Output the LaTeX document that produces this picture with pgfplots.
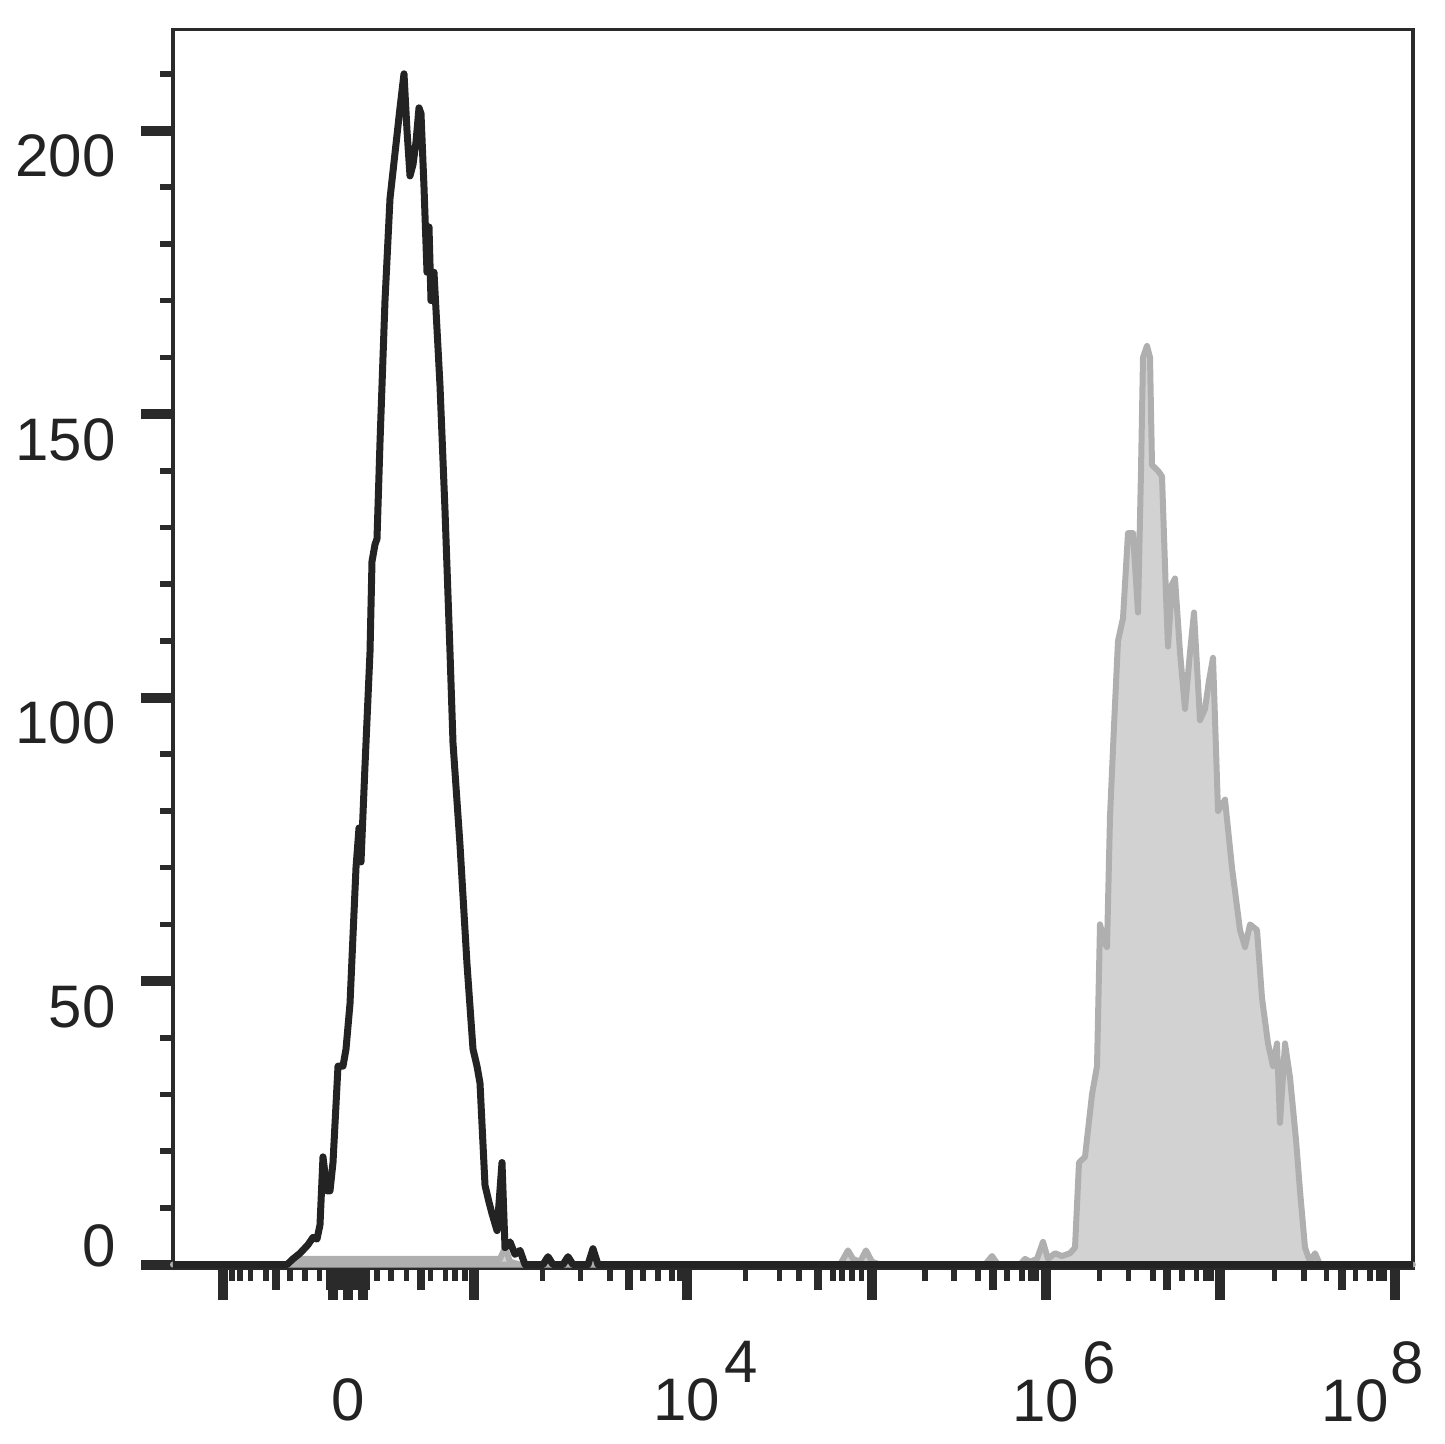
\documentclass[border=0pt]{standalone}
\usepackage{pgfplots}
\pgfplotsset{compat=1.18}
\usepackage{fontspec}
\setmainfont{Liberation Sans}
\definecolor{blk}{RGB}{35,35,35}
\definecolor{frm}{RGB}{42,42,42}
\definecolor{gfill}{RGB}{210,210,210}
\definecolor{gline}{RGB}{175,175,175}
\newcommand{\xl}[1]{10\rlap{\hspace{1pt}\raisebox{9.5pt}{#1}}}
\newcommand{\xlr}[1]{10\rlap{\hspace{0.5pt}\raisebox{9.5pt}{#1}}}
\begin{document}
\begin{tikzpicture}
\useasboundingbox (-43.25pt,-44pt) rectangle (318pt,317pt);
\begin{axis}[
  at={(0pt,0pt)}, anchor=south west,
  scale only axis, width=310pt, height=309.6pt,
  xmin=173, xmax=1413, ymin=-0.6, ymax=217.8,
  clip=false,
  axis line style={frm, line width=0.8pt},
  tick pos=left, tick align=outside,
  major tick length=7.9pt, minor tick length=3.2pt,
  major tick style={frm, line width=2.5pt},
  minor tick style={frm, line width=1.4pt},
  xtick={223,333,348,363,474,687,872,1045.5,1220,1395},
  xticklabels={,,{\vphantom{\xl{4}}0},,,{\xl{4}},,{\xl{6}},,{\hspace*{-20pt}\xlr{8}}},
  minor xtick={232,240,250.5,266,290,305,319.5,377,391,406.5,430.5,445.5,455,465,542.5,580.5,610,643,658,672,680,745.5,779.5,799,833,842,852,861.5,925,954,978,1007,1022,1031,1036,1099.5,1128.5,1153,1182,1196.5,1205.5,1211,1274.5,1304,1326.5,1355.5,1370,1379,1384.5},
  extra x ticks={276,421,629,818,992.5,1167,1341.5,330,334,338,342,346,350,354,358,362,366},
  extra x tick labels={},
  extra x tick style={major tick length=5.5pt, major tick style={frm, line width=2pt}},
  ytick={0,50,100,150,200},
  yticklabels={{\raisebox{11.1pt}{0}},50,100,150,200},
  minor ytick={10,20,30,40,60,70,80,90,110,120,130,140,160,170,180,190,210},
  tick label style={font=\fontsize{15pt}{18pt}\selectfont, text=blk},
  xticklabel style={anchor=north, inner sep=0pt, yshift=-10.25pt},
  yticklabel style={anchor=base east, inner sep=0pt, xshift=-6.25pt, yshift=-11.5pt},
]
\addplot[fill=gfill, draw=gline, line width=1.5pt, line join=round] table {
173 0
290 0
300 1
500 1
505 3
510 0.5
520 0
840 0
848 2.5
853 1
860 0.5
866 2.5
872 0.5
880 0
985 0
992 1.5
998 0
1020 0
1025 1
1030 0.5
1037 1
1043 4
1048 1
1055 2
1062 1.5
1070 2
1075 3
1079 18
1085 19
1092 30
1097 35
1100 60
1104 57
1107 56
1110 79
1114 95
1118 110
1123 114
1128 129
1133 129
1138 115
1141 140
1143 160
1147 162
1150 160
1152 141
1158 140
1162 139
1166 118
1168 109
1172 120
1175 121
1180 108
1185 98
1190 108
1194 115
1200 96
1205 98
1209 103
1213 107
1218 80
1225 82
1232 70
1240 59
1245 56
1250 60
1257 59
1262 47
1268 39
1273 35
1277 39
1280 25
1285 39
1290 33
1296 22
1300 13
1305 3
1310 0.5
1315 2
1320 0
1413 0
} \closedcycle;
\addplot[blk, line width=1.75pt, line join=round] table {
173 0
287 0
293 1
300 2
308 3.5
313 4.8
317 4.5
320 7
323 19
327 13
330 13
333 18
338 35
343 35
346 38
350 46
353 58
356 70
359 77
361 71
365 88
370 108
372 124
375 127
377 128
380 145
385 170
390 188
395 196
400 204
404 210
407 200
410 192
413 194
416 198
419 204
421 203
424 190
427 175
429 183
431 170
434 175
437 165
440 155
445 133
450 108
453 92
460 74
467 53
473 38
477 35
480 32
485 14
489 11
492 9
497 6
502 18
505 3
510 4
515 1.8
520 2.5
525 0
543 0
548 1.4
553 0
563 0
568 1.4
573 0
588 0
593 2.8
598 0
1413 0
};
\end{axis}
\end{tikzpicture}
\end{document}
